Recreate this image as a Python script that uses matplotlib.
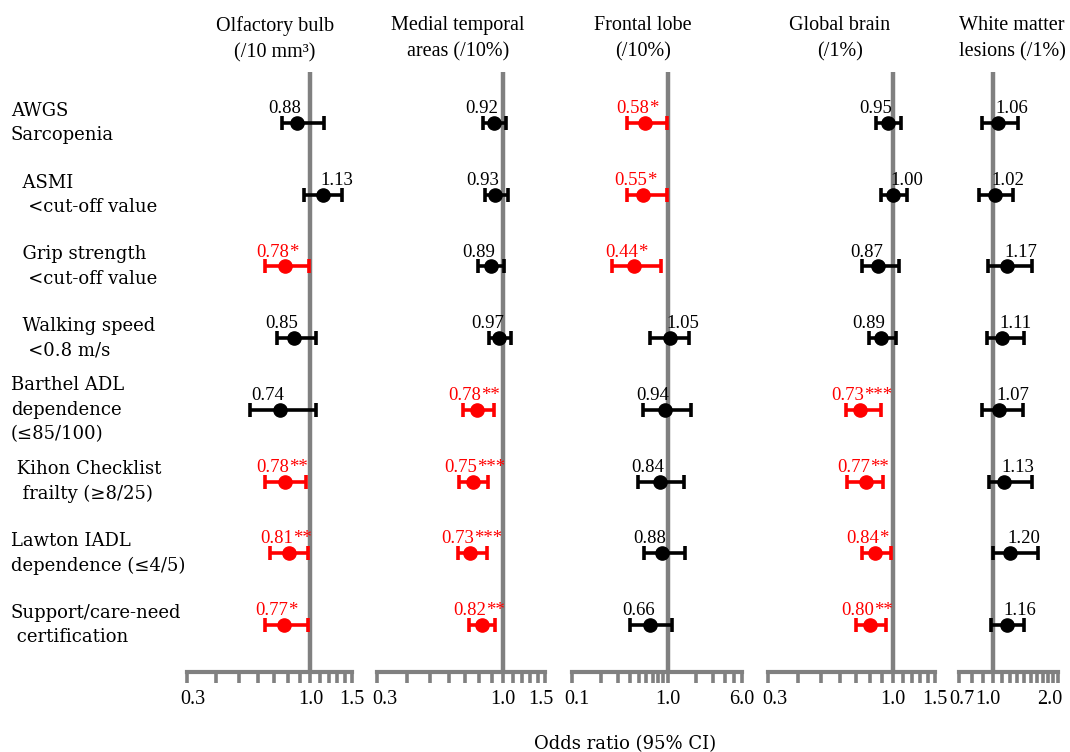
import matplotlib
matplotlib.use("Agg")
import matplotlib.pyplot as plt
from matplotlib.ticker import FixedLocator, FixedFormatter, NullLocator
from matplotlib.transforms import ScaledTranslation

plt.rcParams['font.family'] = ['DejaVu Serif']

# ---------------- data ----------------
row_labels = [
    "AWGS\nSarcopenia",
    "  ASMI\n   <cut-off value",
    "  Grip strength\n   <cut-off value",
    "  Walking speed\n   <0.8 m/s",
    "Barthel ADL\ndependence\n(≤85/100)",
    " Kihon Checklist\n  frailty (≥8/25)",
    "Lawton IADL\ndependence (≤4/5)",
    "Support/care-need\n certification",
]

panel_titles = [
    "Olfactory bulb\n(/10 mm³)",
    "Medial temporal\nareas (/10%)",
    "Frontal lobe\n(/10%)",
    "Global brain\n(/1%)",
    "White matter\nlesions (/1%)",
]

olf_or = [0.88, 1.13, 0.78, 0.85, 0.74, 0.78, 0.81, 0.77]
olf_lo = [0.76, 0.94, 0.64, 0.72, 0.555, 0.64, 0.675, 0.64]
olf_hi = [1.14, 1.36, 0.99, 1.06, 1.06, 0.96, 0.975, 0.975]
olf_sig = ["", "", "*", "", "", "**", "**", "*"]

mta_or = [0.92, 0.93, 0.89, 0.97, 0.78, 0.75, 0.73, 0.82]
mta_lo = [0.826, 0.845, 0.787, 0.874, 0.682, 0.66, 0.65, 0.727]
mta_hi = [1.033, 1.049, 1.016, 1.084, 0.921, 0.866, 0.861, 0.932]
mta_sig = ["", "", "", "", "**", "***", "***", "**"]

fro_or = [0.58, 0.55, 0.44, 1.05, 0.94, 0.84, 0.88, 0.66]
fro_lo = [0.38, 0.38, 0.26, 0.66, 0.55, 0.485, 0.57, 0.40]
fro_hi = [0.98, 0.99, 0.85, 1.69, 1.75, 1.47, 1.52, 1.10]
fro_sig = ["*", "*", "*", "", "", "", "", ""]

glo_or = [0.95, 1.00, 0.87, 0.89, 0.73, 0.77, 0.84, 0.80]
glo_lo = [0.846, 0.888, 0.74, 0.794, 0.634, 0.644, 0.744, 0.702]
glo_hi = [1.083, 1.141, 1.06, 1.032, 0.891, 0.908, 0.981, 0.937]
glo_sig = ["", "", "", "", "***", "**", "*", "**"]

wml_or = [1.06, 1.02, 1.17, 1.11, 1.07, 1.13, 1.20, 1.16]
wml_lo = [0.89, 0.868, 0.954, 0.944, 0.89, 0.962, 1.00, 0.98]
wml_hi = [1.303, 1.245, 1.522, 1.398, 1.375, 1.512, 1.62, 1.394]
wml_sig = ["", "", "", "", "", "", "", ""]

olf_ticks = [0.3, 0.4, 0.5, 0.6, 0.7, 0.8, 0.9, 1.0, 1.1, 1.2, 1.3, 1.4, 1.5]
olf_ticklabels = ["0.3", "", "", "", "", "", "", "1.0", "", "", "", "", "1.5"]
fro_ticks = [0.1, 0.2, 0.3, 0.4, 0.5, 0.6, 0.7, 0.8, 0.9, 1.0, 2.0, 3.0, 4.0, 5.0, 6.0]
fro_ticklabels = ["0.1", "", "", "", "", "", "", "", "", "1.0", "", "", "", "", "6.0"]
wml_ticks = [0.7, 0.8, 0.9, 1.0, 1.1, 1.2, 1.3, 1.4, 1.5, 1.6, 1.7, 1.8, 1.9, 2.0]
wml_ticklabels = ["0.7", "", "", "1.0", "", "", "", "", "", "", "", "", "", "2.0"]

panels = [
    (olf_or, olf_lo, olf_hi, olf_sig, olf_ticks, olf_ticklabels),
    (mta_or, mta_lo, mta_hi, mta_sig, olf_ticks, olf_ticklabels),
    (fro_or, fro_lo, fro_hi, fro_sig, fro_ticks, fro_ticklabels),
    (glo_or, glo_lo, glo_hi, glo_sig, olf_ticks, olf_ticklabels),
    (wml_or, wml_lo, wml_hi, wml_sig, wml_ticks, wml_ticklabels),
]

# ---------------- layout ----------------
W, H = 1070, 752
fig = plt.figure(figsize=(W / 100, H / 100), dpi=100)
panel_px = [(187, 352), (377, 545), (572, 742), (768, 935), (959, 1058)]
title_cx = [275, 458, 643, 840, 1012]
# horizontal nudges (px) of first / "1.0" / last tick labels, as in the reference
first_shift = [6, 8, 5, 7, 3]
one_shift = [0, 0, 0, 0, -5]
last_shift = [0, -4, 0, 0, -8]
top_px, bot_px = 72, 672
row_top_px, row_step_px = 123, 71.7
ymin = -(row_top_px - top_px) / row_step_px
ymax = (bot_px - row_top_px) / row_step_px

GRAY = '#808080'
RED = '#FF0000'
NUMFONT = 'Liberation Serif'
n = len(row_labels)
ypos = list(range(n))

for pi, ((x0, x1), cx, title, (vals, los, his, sigs, ticks, tlabels)) in enumerate(zip(
        panel_px, title_cx, panel_titles, panels)):
    ax = fig.add_axes([x0 / W, 1 - bot_px / H, (x1 - x0) / W, (bot_px - top_px) / H])
    ax.set_xscale('log')
    ax.set_xlim(ticks[0], ticks[-1])
    ax.set_ylim(ymax, ymin)
    ax.axvline(1.0, color=GRAY, lw=3.2, zorder=0)
    for sp in ['left', 'right', 'top']:
        ax.spines[sp].set_visible(False)
    ax.spines['bottom'].set_color(GRAY)
    ax.spines['bottom'].set_linewidth(3)
    ax.yaxis.set_visible(False)
    ax.xaxis.set_major_locator(FixedLocator(ticks))
    ax.xaxis.set_major_formatter(FixedFormatter(tlabels))
    ax.xaxis.set_minor_locator(NullLocator())
    ax.tick_params(axis='x', which='both', direction='out', length=8, width=2.6,
                   color=GRAY, labelsize=14.5, pad=5)
    ax.patch.set_alpha(0)
    mticks = ax.xaxis.get_major_ticks()
    for t in mticks:
        t.label1.set_family(NUMFONT)
    shifts = {0: first_shift[pi], len(ticks) - 1: last_shift[pi],
              ticks.index(1.0): one_shift[pi]}
    for idx, dx in shifts.items():
        if dx:
            lab = mticks[idx].label1
            lab.set_transform(lab.get_transform() +
                              ScaledTranslation(dx / 100, 0, fig.dpi_scale_trans))

    for y, v, lo, hi, s in zip(ypos, vals, los, his, sigs):
        c = RED if s else 'black'
        ax.errorbar([v], [y], xerr=[[v - lo], [hi - v]], fmt='o', color=c,
                    ms=9.5, elinewidth=2.6, capsize=5, capthick=2.6, zorder=3)
        num = f"{v:.2f}"
        if v < 1:
            ax.annotate(num, (v, y), xytext=(3, 7), textcoords='offset points',
                        ha='right', va='baseline', color=c, fontsize=13.5,
                        family=NUMFONT)
            if s:
                ax.annotate(s, (v, y), xytext=(3, 7), textcoords='offset points',
                            ha='left', va='baseline', color=c, fontsize=13.5,
                            family=NUMFONT)
        else:
            ax.annotate(num + s, (v, y), xytext=(-2, 7), textcoords='offset points',
                        ha='left', va='baseline', color=c, fontsize=13.5,
                        family=NUMFONT)

    fig.text(cx / W, 1 - 39 / H, title, ha='center', va='center',
             family='Liberation Serif', fontsize=14.5, linespacing=1.5)

# row labels
for i, lab in enumerate(row_labels):
    ypx = row_top_px + i * row_step_px
    fig.text(11 / W, 1 - ypx / H, lab, ha='left', va='center', fontsize=13,
             linespacing=1.45)

fig.text(625 / W, 1 - 744 / H, "Odds ratio (95% CI)", ha='center', va='center',
         fontsize=13)

fig.savefig("out.png", dpi=100)
